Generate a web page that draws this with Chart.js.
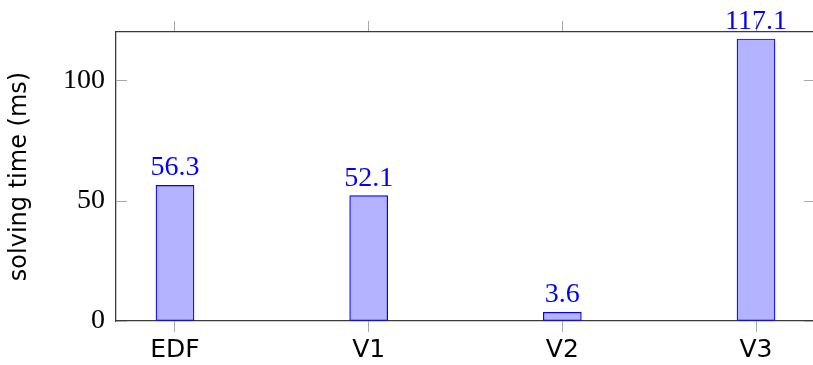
<!DOCTYPE html>
<html>
<head>
<meta charset="utf-8">
<title>Solving time</title>
<script src="https://cdn.jsdelivr.net/npm/chart.js@4.4.1/dist/chart.umd.min.js"></script>
<style>
  html, body { margin: 0; padding: 0; background: #ffffff; overflow: hidden; }
  #wrap { width: 813px; height: 365px; overflow: hidden; }
  canvas { display: block; }
</style>
</head>
<body>
<div id="wrap"><canvas id="c" width="815" height="365"></canvas></div>
<script>
// Solving time per variant, milliseconds
const categories = ['EDF', 'V1', 'V2', 'V3'];
const solvingTimes = [56.3, 52.1, 3.6, 117.1];
const yTickValues = [0, 50, 100];
const yMin = 0;
const yMax = 120;

const xPad = 0.3046;          // enlarge x limits around the first/last category
const xTickValues = categories.map((_, i) => i);

const AXIS_COLOR = '#3a3a3a';
const TICK_COLOR = '#a8a8a8';
const BAR_FILL = '#b3b3ff';
const BAR_EDGE = '#0000ff';

const serif = '"Liberation Serif", "DejaVu Serif", serif';
const sans = '"DejaVu Sans", "Liberation Sans", sans-serif';

function setTicks(values) {
  return function (scale) { scale.ticks = values.map(v => ({ value: v })); };
}

// Inward y ticks, value labels above bars and the rotated axis title
const decorations = {
  id: 'decorations',
  afterDatasetsDraw(chart) {
    const ctx = chart.ctx;
    const meta = chart.getDatasetMeta(0);
    ctx.save();
    ctx.fillStyle = BAR_EDGE;
    ctx.font = '28px ' + serif;
    ctx.textAlign = 'center';
    ctx.textBaseline = 'alphabetic';
    meta.data.forEach((bar, i) => {
      ctx.fillText(solvingTimes[i].toFixed(1), bar.x, bar.y - 10);
    });
    ctx.restore();
  },
  afterDraw(chart) {
    const ctx = chart.ctx;
    const y = chart.scales.y;
    const area = chart.chartArea;
    ctx.save();
    ctx.strokeStyle = TICK_COLOR;
    ctx.lineWidth = 1;
    yTickValues.forEach(v => {
      const py = Math.round(y.getPixelForValue(v)) + 0.5;
      ctx.beginPath();
      ctx.moveTo(area.left, py);
      ctx.lineTo(area.left + 11, py);
      ctx.moveTo(area.right - 11, py);
      ctx.lineTo(area.right, py);
      ctx.stroke();
    });
    // axis title
    ctx.fillStyle = '#000000';
    ctx.font = '24px ' + sans;
    ctx.textAlign = 'center';
    ctx.textBaseline = 'middle';
    ctx.translate(20, (area.top + area.bottom) / 2);
    ctx.rotate(-Math.PI / 2);
    ctx.fillText('solving time (ms)', 0, 0);
    ctx.restore();
  }
};

new Chart(document.getElementById('c'), {
  type: 'bar',
  data: {
    datasets: [{
      data: solvingTimes.map((v, i) => ({ x: i, y: v })),
      backgroundColor: BAR_FILL,
      borderColor: BAR_EDGE,
      borderWidth: 1.2,
      borderSkipped: false,
      barThickness: 38
    }]
  },
  options: {
    responsive: false,
    devicePixelRatio: 1,
    animation: false,
    layout: { padding: 0 },
    plugins: {
      legend: { display: false },
      tooltip: { enabled: false }
    },
    scales: {
      x: {
        type: 'linear',
        position: 'bottom',
        offset: false,
        min: -xPad,
        max: categories.length - 1 + xPad,
        afterBuildTicks: setTicks(xTickValues),
        afterFit(scale) { scale.height = 44; },
        ticks: {
          callback: v => categories[v] ?? '',
          font: { family: sans, size: 25 },
          color: '#000000',
          padding: 3,
          maxRotation: 0,
          autoSkip: false
        },
        grid: { offset: false, drawOnChartArea: false, drawTicks: true, tickLength: 11, color: TICK_COLOR },
        border: { display: true, color: AXIS_COLOR, width: 1.3 }
      },
      x2: {
        type: 'linear',
        position: 'top',
        offset: false,
        min: -xPad,
        max: categories.length - 1 + xPad,
        afterBuildTicks: setTicks(xTickValues),
        afterFit(scale) { scale.height = 32; },
        ticks: { display: false },
        grid: { offset: false, drawOnChartArea: false, drawTicks: true, tickLength: 11, color: TICK_COLOR },
        border: { display: true, color: AXIS_COLOR, width: 1.3 }
      },
      y: {
        type: 'linear',
        position: 'left',
        min: yMin,
        max: yMax,
        afterBuildTicks: setTicks(yTickValues),
        afterFit(scale) { scale.width = 116; },
        ticks: {
          font: { family: serif, size: 28 },
          color: '#000000',
          padding: 11
        },
        grid: { drawOnChartArea: false, drawTicks: false },
        border: { display: true, color: AXIS_COLOR, width: 1.3 }
      },
      y2: {
        type: 'linear',
        position: 'right',
        min: yMin,
        max: yMax,
        afterFit(scale) { scale.width = 0; },
        ticks: { display: false },
        grid: { drawOnChartArea: false, drawTicks: false },
        border: { display: true, color: AXIS_COLOR, width: 1.3 }
      }
    }
  },
  plugins: [decorations]
});
</script>
</body>
</html>
